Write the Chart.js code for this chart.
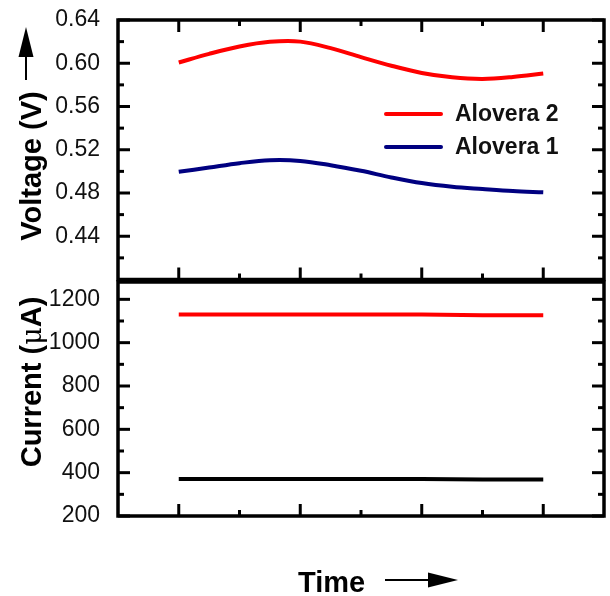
<!DOCTYPE html>
<html><head><meta charset="utf-8">
<script src="https://cdn.jsdelivr.net/npm/chart.js@4.4.0/dist/chart.umd.min.js"></script>
<style>
html,body{margin:0;padding:0;background:#fff;width:610px;height:596px;overflow:hidden}
canvas{position:absolute;left:0}
#top{top:0}
#bot{top:280px}
</style></head>
<body>
<canvas id="top" width="610" height="282"></canvas>
<canvas id="bot" width="610" height="316"></canvas>
<script>
// ---- data ----
const timeX = [0, 0.25, 0.5, 0.75, 1, 1.25, 1.5, 1.75, 2, 2.25, 2.5, 2.75, 3];
const voltAlovera2 = [0.6007, 0.6087, 0.6155, 0.6198, 0.6200, 0.6140, 0.6057, 0.5977, 0.5910, 0.5870, 0.5855, 0.5873, 0.5905];
const voltAlovera1 = [0.4996, 0.5036, 0.5076, 0.5103, 0.5097, 0.5057, 0.5005, 0.4944, 0.4892, 0.4858, 0.4837, 0.4818, 0.4806];
const currentX = [0, 0.5, 1, 1.5, 2, 2.5, 3];
const currentAlovera2 = [1130, 1130, 1130, 1130, 1130, 1127, 1126];
const currentAlovera1 = [371, 371, 371, 371, 371, 369, 369];
const seriesNames = ['Alovera 2', 'Alovera 1'];
const voltTicks = [0.44, 0.48, 0.52, 0.56, 0.60, 0.64];
const voltMinor = [0.42, 0.46, 0.50, 0.54, 0.58, 0.62];
const currentTicks = [200, 400, 600, 800, 1000, 1200];
const currentMinor = [300, 500, 700, 900, 1100];
const timeMajor = [0, 1, 2, 3];
const timeMinor = [0.5, 1.5, 2.5];

const FONT = '"Liberation Sans", Arial, Helvetica, sans-serif';
const pts = (xs, ys) => xs.map((x, i) => ({x: x, y: ys[i]}));

function framePlugin(cfg) {
  return {
    id: 'frame_' + cfg.name,
    afterDatasetsDraw(chart) {
      const a = chart.chartArea, ctx = chart.ctx;
      const xs = chart.scales.x, ys = chart.scales.y;
      ctx.save();
      ctx.strokeStyle = '#000';
      ctx.lineWidth = 3;
      ctx.lineCap = 'butt';
      const seg = (x1, y1, x2, y2) => { ctx.beginPath(); ctx.moveTo(x1, y1); ctx.lineTo(x2, y2); ctx.stroke(); };
      const MAJ = 12, MIN = 6;
      timeMajor.forEach(v => {
        const p = xs.getPixelForValue(v);
        seg(p, a.bottom, p, a.bottom - MAJ);
        if (cfg.topTicks) seg(p, a.top, p, a.top + MAJ);
      });
      timeMinor.forEach(v => {
        const p = xs.getPixelForValue(v);
        seg(p, a.bottom, p, a.bottom - MIN);
        if (cfg.topTicks) seg(p, a.top, p, a.top + MIN);
      });
      cfg.major.forEach(v => {
        const p = ys.getPixelForValue(v);
        seg(a.left, p, a.left + MAJ, p);
        seg(a.right, p, a.right - MAJ, p);
      });
      cfg.minor.forEach(v => {
        const p = ys.getPixelForValue(v);
        seg(a.left, p, a.left + MIN, p);
        seg(a.right, p, a.right - MIN, p);
      });
      ctx.lineWidth = 3.5;
      ctx.strokeRect(a.left, a.top, a.right - a.left, a.bottom - a.top);
      ctx.restore();
    },
    afterDraw(chart) {
      if (cfg.draw) cfg.draw(chart.ctx, chart);
    }
  };
}

function arrowUp(ctx, x, yTip, yTail) {
  ctx.save();
  ctx.fillStyle = '#000'; ctx.strokeStyle = '#000'; ctx.lineWidth = 2;
  ctx.beginPath(); ctx.moveTo(x, yTip + 28); ctx.lineTo(x, yTail); ctx.stroke();
  ctx.beginPath(); ctx.moveTo(x, yTip); ctx.lineTo(x - 7.5, yTip + 30); ctx.lineTo(x + 7.5, yTip + 30); ctx.closePath(); ctx.fill();
  ctx.restore();
}
function arrowRight(ctx, xTail, xTip, y) {
  ctx.save();
  ctx.fillStyle = '#000'; ctx.strokeStyle = '#000'; ctx.lineWidth = 2;
  ctx.beginPath(); ctx.moveTo(xTail, y); ctx.lineTo(xTip - 28, y); ctx.stroke();
  ctx.beginPath(); ctx.moveTo(xTip, y); ctx.lineTo(xTip - 30, y - 7.5); ctx.lineTo(xTip - 30, y + 7.5); ctx.closePath(); ctx.fill();
  ctx.restore();
}

const xScale = {
  type: 'linear', min: -0.5, max: 3.5, display: false,
  ticks: {display: false}, grid: {display: false},
  afterFit: s => { s.height = 0; s.paddingLeft = 0; s.paddingRight = 0; s.paddingTop = 0; s.paddingBottom = 0; }
};
function yScale(min, max, ticks, fmt) {
  return {
    type: 'linear', min: min, max: max, position: 'left',
    grid: {display: false}, border: {display: false},
    afterBuildTicks: s => { s.ticks = ticks.map(v => ({value: v})); },
    afterFit: s => { s.width = 118; s.paddingTop = 0; s.paddingBottom = 0; },
    ticks: {
      padding: 10, color: '#111',
      font: {family: FONT, size: 23},
      callback: v => fmt(v)
    }
  };
}

Chart.defaults.animation = false;

new Chart(document.getElementById('top'), {
  type: 'line',
  data: {
    datasets: [
      {label: seriesNames[0], data: pts(timeX, voltAlovera2), borderColor: '#ff0000', borderWidth: 4, pointRadius: 0, tension: 0.35, fill: false},
      {label: seriesNames[1], data: pts(timeX, voltAlovera1), borderColor: '#000080', borderWidth: 4, pointRadius: 0, tension: 0.35, fill: false}
    ]
  },
  options: {
    responsive: false, animation: false,
    layout: {padding: {top: 20, bottom: 2.5, left: 0, right: 6}},
    plugins: {legend: {display: false}, tooltip: {enabled: false}},
    scales: {x: xScale, y: yScale(0.40, 0.64, voltTicks, v => v.toFixed(2))}
  },
  plugins: [framePlugin({
    name: 'top', topTicks: true, major: voltTicks, minor: voltMinor,
    draw(ctx, chart) {
      // legend
      const ds = chart.data.datasets;
      const rows = [114, 147];
      ctx.save();
      ds.forEach((d, i) => {
        ctx.strokeStyle = d.borderColor; ctx.lineWidth = 4; ctx.lineCap = 'round';
        ctx.beginPath(); ctx.moveTo(386, rows[i]); ctx.lineTo(441, rows[i]); ctx.stroke();
        ctx.fillStyle = '#111'; ctx.font = 'bold 23px ' + FONT;
        ctx.textBaseline = 'middle'; ctx.textAlign = 'left';
        ctx.fillText(d.label, 455, rows[i] + 1);
      });
      // y title
      ctx.translate(41, 166); ctx.rotate(-Math.PI / 2);
      ctx.fillStyle = '#000'; ctx.font = 'bold 29px ' + FONT;
      ctx.textAlign = 'center'; ctx.textBaseline = 'alphabetic';
      ctx.fillText('Voltage (V)', 0, 0);
      ctx.restore();
      arrowUp(ctx, 26, 27, 80);
    }
  })]
});

new Chart(document.getElementById('bot'), {
  type: 'line',
  data: {
    datasets: [
      {label: seriesNames[0], data: pts(currentX, currentAlovera2), borderColor: '#ff0000', borderWidth: 4, pointRadius: 0, tension: 0, fill: false},
      {label: seriesNames[1], data: pts(currentX, currentAlovera1), borderColor: '#000000', borderWidth: 4, pointRadius: 0, tension: 0, fill: false}
    ]
  },
  options: {
    responsive: false, animation: false,
    layout: {padding: {top: 2, bottom: 80, left: 0, right: 6}},
    plugins: {legend: {display: false}, tooltip: {enabled: false}},
    scales: {x: xScale, y: yScale(200, 1280, currentTicks, v => String(v))}
  },
  plugins: [framePlugin({
    name: 'bot', topTicks: false, major: currentTicks, minor: currentMinor,
    draw(ctx) {
      ctx.save();
      // y title with regular-weight mu
      const bold = 'bold 29px ' + FONT, reg = '27px "DejaVu Serif", serif';
      const parts = [['Current (', bold], ['\u03BC', reg], ['A)', bold]];
      let total = 0;
      parts.forEach(p => { ctx.font = p[1]; total += ctx.measureText(p[0]).width; });
      ctx.translate(41, 382 - 280); ctx.rotate(-Math.PI / 2);
      ctx.fillStyle = '#000'; ctx.textBaseline = 'alphabetic'; ctx.textAlign = 'left';
      let x = -total / 2;
      parts.forEach(p => { ctx.font = p[1]; ctx.fillText(p[0], x, 0); x += ctx.measureText(p[0]).width; });
      ctx.restore();
      // x title
      ctx.save();
      ctx.fillStyle = '#000'; ctx.font = 'bold 29px ' + FONT;
      ctx.textAlign = 'left'; ctx.textBaseline = 'alphabetic';
      ctx.fillText('Time', 298, 592 - 280);
      ctx.restore();
      arrowRight(ctx, 385, 458, 580 - 280);
    }
  })]
});
</script>
</body></html>
